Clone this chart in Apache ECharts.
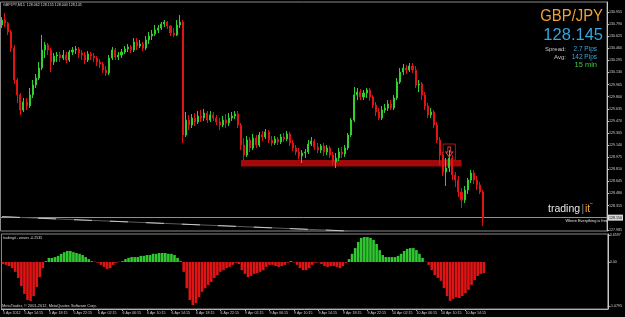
<!DOCTYPE html>
<html>
<head>
<meta charset="utf-8">
<script src="https://cdn.jsdelivr.net/npm/echarts@6/dist/echarts.min.js"></script>
<style>html,body{margin:0;padding:0;background:#000;}#c{width:625px;height:317px;}</style>
</head>
<body>
<div id="c"></div>
<script>
// ---- data (30-min buckets, GBP/JPY) ----
const opens = [130.777,130.845,130.804,130.682,130.463,130.027,129.823,129.618,129.727,129.673,
129.823,129.959,130.054,130.191,130.436,130.504,130.436,130.273,130.354,130.368,
130.327,130.368,130.300,130.409,130.436,130.450,130.395,130.368,130.300,130.382,
130.354,130.327,130.273,130.245,130.163,130.123,130.327,130.436,130.341,130.368,
130.409,130.450,130.477,130.436,130.545,130.491,130.518,130.463,130.573,130.627,
130.654,130.709,130.736,130.791,130.818,130.763,130.668,130.641,130.777,130.818,
129.277,129.481,129.413,129.509,129.454,129.536,129.509,129.577,129.481,129.550,
129.509,129.454,129.413,129.481,129.441,129.509,129.536,129.563,129.413,129.141,
129.004,129.209,129.100,129.236,129.141,129.277,129.250,129.318,129.209,129.168,
129.222,129.182,129.250,129.222,129.291,129.168,129.100,129.045,128.991,129.032,
129.045,129.154,129.195,129.113,129.072,129.127,129.045,129.100,129.004,128.909,
128.963,129.045,129.018,129.100,129.277,129.481,129.823,129.863,129.795,129.850,
129.891,129.795,129.686,129.591,129.509,129.618,129.645,129.700,129.645,129.782,
130.000,130.136,130.191,130.163,130.218,130.163,129.959,129.973,129.823,129.673,
129.550,129.591,129.413,129.209,129.004,128.773,128.827,128.963,128.732,128.663,
128.500,128.391,128.527,128.663,128.759,128.663,128.595,128.500];
const closes = [130.845,130.804,130.682,130.463,130.027,129.823,129.618,129.727,129.673,129.823,
129.959,130.054,130.191,130.436,130.504,130.436,130.273,130.354,130.368,130.327,
130.368,130.300,130.409,130.436,130.450,130.395,130.368,130.300,130.382,130.354,
130.327,130.273,130.245,130.163,130.123,130.327,130.436,130.341,130.368,130.409,
130.450,130.477,130.436,130.545,130.491,130.518,130.463,130.573,130.627,130.654,
130.709,130.736,130.791,130.818,130.763,130.668,130.641,130.777,130.818,129.277,
129.481,129.413,129.509,129.454,129.536,129.509,129.577,129.481,129.550,129.509,
129.454,129.413,129.481,129.441,129.509,129.536,129.563,129.413,129.141,129.004,
129.209,129.100,129.236,129.141,129.277,129.250,129.318,129.209,129.168,129.222,
129.182,129.250,129.222,129.291,129.168,129.100,129.045,128.991,129.032,129.045,
129.154,129.195,129.113,129.072,129.127,129.045,129.100,129.004,128.909,128.963,
129.045,129.018,129.100,129.277,129.481,129.823,129.863,129.795,129.850,129.891,
129.795,129.686,129.591,129.509,129.618,129.645,129.700,129.645,129.782,130.000,
130.136,130.191,130.163,130.218,130.163,129.959,129.973,129.823,129.673,129.550,
129.591,129.413,129.209,129.004,128.773,128.827,128.963,128.732,128.663,128.500,
128.391,128.527,128.663,128.759,128.663,128.595,128.500,128.145];
const lows = [130.736,130.750,130.641,130.409,129.973,129.713,129.550,129.591,129.618,129.645,
129.782,129.918,130.027,130.163,130.327,130.368,130.136,130.232,130.273,130.273,
130.300,130.259,130.273,130.368,130.382,130.327,130.300,130.245,130.273,130.300,
130.273,130.218,130.191,130.123,130.082,130.095,130.300,130.300,130.300,130.327,
130.382,130.409,130.395,130.409,130.436,130.463,130.422,130.436,130.518,130.573,
130.627,130.668,130.709,130.750,130.723,130.627,130.613,130.627,130.736,129.168,
129.250,129.345,129.372,129.400,129.427,129.454,129.468,129.441,129.454,129.468,
129.413,129.345,129.386,129.372,129.400,129.468,129.495,129.372,129.072,128.936,
128.977,129.045,129.072,129.100,129.113,129.195,129.222,129.168,129.127,129.141,
129.141,129.154,129.182,129.195,129.127,129.059,129.004,128.950,128.895,128.963,
129.018,129.127,129.072,129.032,129.032,128.991,129.004,128.963,128.868,128.827,
128.922,128.963,128.977,129.072,129.250,129.454,129.754,129.754,129.754,129.782,
129.741,129.645,129.536,129.481,129.481,129.577,129.604,129.618,129.618,129.754,
129.973,130.095,130.109,130.136,130.123,129.918,129.863,129.754,129.618,129.509,
129.509,129.372,129.168,128.868,128.718,128.582,128.773,128.663,128.568,128.432,
128.281,128.350,128.473,128.622,128.609,128.527,128.473,128.036];
const highs = [130.886,130.941,130.818,130.709,130.504,130.054,129.850,129.782,129.782,129.918,
130.027,130.109,130.273,130.641,130.545,130.532,130.463,130.395,130.409,130.409,
130.436,130.409,130.436,130.477,130.491,130.477,130.436,130.409,130.422,130.409,
130.395,130.354,130.313,130.273,130.218,130.368,130.477,130.463,130.409,130.450,
130.491,130.518,130.504,130.600,130.600,130.573,130.545,130.627,130.682,130.709,
130.777,130.777,130.818,130.845,130.832,130.777,130.736,130.845,130.913,130.845,
129.591,129.550,129.563,129.577,129.604,129.618,129.632,129.604,129.604,129.591,
129.550,129.509,129.536,129.563,129.577,129.591,129.604,129.604,129.441,129.236,
129.263,129.250,129.291,129.277,129.318,129.332,129.359,129.345,129.263,129.263,
129.250,129.291,129.304,129.332,129.318,129.209,129.141,129.100,129.072,129.086,
129.209,129.250,129.222,129.168,129.154,129.168,129.141,129.127,129.045,129.032,
129.100,129.113,129.141,129.304,129.509,129.932,129.918,129.904,129.891,129.918,
129.918,129.823,129.727,129.645,129.673,129.700,129.754,129.754,129.823,130.054,
130.191,130.245,130.232,130.259,130.259,130.218,130.027,130.000,129.863,129.713,
129.645,129.618,129.454,129.250,129.045,128.963,129.072,129.004,128.773,128.718,
128.554,128.582,128.691,128.800,128.800,128.718,128.636,128.527];
const waves = [-0.05,-0.07,-0.10,-0.15,-0.24,-0.39,-0.59,-0.78,-0.93,-0.95,
-0.83,-0.61,-0.37,-0.15,0.02,0.10,0.10,0.12,0.15,0.20,
0.24,0.27,0.27,0.24,0.22,0.20,0.17,0.12,0.07,0.02,
0.005,-0.02,-0.07,-0.12,-0.17,-0.15,-0.07,-0.02,0.005,0.02,
0.07,0.10,0.12,0.12,0.12,0.15,0.15,0.17,0.17,0.20,
0.20,0.22,0.22,0.22,0.20,0.20,0.17,0.10,0.02,-0.24,
-0.64,-0.93,-1.05,-1.00,-0.86,-0.73,-0.64,-0.56,-0.49,-0.39,
-0.32,-0.24,-0.20,-0.15,-0.12,-0.07,-0.02,-0.05,-0.20,-0.29,
-0.37,-0.34,-0.29,-0.27,-0.24,-0.20,-0.12,-0.07,-0.07,-0.10,
-0.12,-0.10,-0.07,-0.02,0.02,-0.01,-0.07,-0.15,-0.20,-0.20,
-0.15,-0.07,-0.02,-0.01,-0.05,-0.10,-0.12,-0.10,-0.10,-0.12,
-0.15,-0.10,-0.02,0.07,0.20,0.34,0.49,0.59,0.61,0.61,
0.59,0.54,0.44,0.29,0.17,0.12,0.12,0.12,0.12,0.15,
0.20,0.27,0.32,0.34,0.34,0.29,0.20,0.10,0.005,-0.07,
-0.20,-0.32,-0.39,-0.46,-0.64,-0.83,-0.95,-0.90,-0.86,-0.88,
-0.83,-0.76,-0.68,-0.56,-0.44,-0.34,-0.29,-0.27];
const priceTicks = [130.955,130.790,130.625,130.460,130.295,130.130,129.965,129.800,129.635,129.470,
129.305,129.140,128.975,128.810,128.645,128.480,128.315,127.985];
const waveTicks = [0.6597, 0, -1.0795];
const timeTicks = ['5 Apr 2012','5 Apr 14:15','5 Apr 18:15','5 Apr 22:15','6 Apr 02:15','6 Apr 06:15',
'6 Apr 10:15','6 Apr 14:15','6 Apr 18:15','6 Apr 22:15','9 Apr 02:15','9 Apr 06:15','9 Apr 10:15',
'9 Apr 14:15','9 Apr 18:15','9 Apr 22:15','10 Apr 02:15','10 Apr 06:15','10 Apr 10:15','10 Apr 14:15'];
const bidPrice = 128.145;
const supportZone = [[78, 128.936], [150, 128.847]];
const signalBox = [[144, 129.154], [148, 128.936]];
const signalArrow = [146, 129.045];
const trendLine = [[0, 128.163], [113, 127.968]];

// categories (30-min slots, incl. empty right shift)
const N = 198;
const months = ['Jan','Feb','Mar','Apr','May','Jun','Jul','Aug','Sep','Oct','Nov','Dec'];
const categories = [];
let t = Date.UTC(2012,3,5,10,45);
for (let i = 0; i < N; i++) {
  const d = new Date(t);
  categories.push(d.getUTCDate()+' '+months[d.getUTCMonth()]+' '+String(d.getUTCHours()).padStart(2,'0')+':'+String(d.getUTCMinutes()).padStart(2,'0'));
  t += 30*60000;
  if (t >= Date.UTC(2012,3,7,0,0) && t < Date.UTC(2012,3,9,0,15)) t = Date.UTC(2012,3,9,0,15);
}
const lastIdx = opens.length - 1;
const showTime = (idx) => idx === 0 || (idx >= 7 && (idx - 7) % 8 === 0 && idx <= lastIdx);

const FONT = '"Liberation Sans", Arial, sans-serif';
const chart = echarts.init(document.getElementById('c'));
const grey = '#8a8a8a';
chart.setOption({
  backgroundColor: '#000',
  animation: false,
  grid: [
    {left: 0.5, right: 15, top: 2, height: 229, show: true, borderColor: grey, borderWidth: 1},
    {left: 0.5, right: 15, top: 234, bottom: 8, show: true, borderColor: grey, borderWidth: 1}
  ],
  xAxis: [
    {type: 'category', gridIndex: 0, data: categories, boundaryGap: true,
     axisLine: {show: false}, axisTick: {show: false}, axisLabel: {show: false}, splitLine: {show: false}},
    {type: 'category', gridIndex: 1, data: categories, boundaryGap: true,
     axisLine: {show: true, onZero: false, lineStyle: {color: '#b0b0b0'}},
     axisTick: {show: true, alignWithLabel: true, interval: showTime, length: 2, lineStyle: {color: '#b0b0b0'}},
     axisLabel: {show: true, interval: showTime, align: 'left', margin: 2, fontSize: 3.6, fontFamily: FONT, color: '#d0d0d0',
       formatter: (v, idx) => idx === 0 ? timeTicks[0] : timeTicks[(idx - 7) / 8 + 1]},
     splitLine: {show: false}}
  ],
  yAxis: [
    {type: 'value', gridIndex: 0, position: 'right', min: 127.968, max: 131.091,
     splitLine: {show: false},
     axisLine: {show: true, lineStyle: {color: '#c8c8c8'}},
     axisTick: {show: true, length: 2, customValues: priceTicks, lineStyle: {color: '#c8c8c8'}},
     axisLabel: {customValues: priceTicks, formatter: v => v.toFixed(3), fontSize: 3.6, fontFamily: FONT, color: '#d0d0d0', margin: 2}},
    {type: 'value', gridIndex: 1, position: 'right', min: -1.1484, max: 0.6841,
     splitLine: {show: false},
     axisLine: {show: true, lineStyle: {color: '#c8c8c8'}},
     axisTick: {show: true, length: 2, customValues: waveTicks, lineStyle: {color: '#c8c8c8'}},
     axisLabel: {customValues: waveTicks, formatter: v => v === 0 ? '0.00' : v.toFixed(4), fontSize: 3.6, fontFamily: FONT, color: '#d0d0d0', margin: 2}}
  ],
  series: [
    {
      type: 'candlestick', xAxisIndex: 0, yAxisIndex: 0, barWidth: '50%', z: 5,
      data: opens.map((o, i) => [o, closes[i], lows[i], highs[i]]),
      itemStyle: {color: '#2fd02f', color0: '#e01414', borderColor: '#2fd02f', borderColor0: '#e01414', borderWidth: 1},
      markArea: {
        silent: true,
        data: [
          [{coord: supportZone[0], itemStyle: {color: '#a00a0a'}}, {coord: supportZone[1]}],
          [{coord: signalBox[0], itemStyle: {color: 'rgba(0,0,0,0)', borderColor: '#a01c1c', borderWidth: 1}}, {coord: signalBox[1]}]
        ]
      },
      markPoint: {
        silent: true,
        data: [{coord: signalArrow, symbol: 'path://M3,0 L7,0 L7,5 L10,5 L5,10 L0,5 L3,5 Z', symbolSize: [7, 10],
          itemStyle: {color: 'rgba(0,0,0,0)', borderColor: '#e04040', borderWidth: 1}, label: {show: false}}]
      },
      markLine: {
        silent: true, symbol: ['none', 'none'], label: {show: false},
        data: [
          {yAxis: bidPrice, lineStyle: {color: '#909090', type: 'solid', width: 1},
           label: {show: true, position: 'end', distance: 1, formatter: p => p.value.toFixed(3), fontSize: 3.6, fontFamily: FONT,
             color: '#000', backgroundColor: '#d8d8d8', padding: [1, 1]}},
          [{coord: trendLine[0], lineStyle: {color: '#5c5c5c', type: 'solid', width: 1}}, {coord: trendLine[1]}],
          [{coord: trendLine[0], lineStyle: {color: '#c8c8c8', type: [18, 18], width: 1}}, {coord: trendLine[1]}]
        ]
      }
    },
    {
      type: 'bar', xAxisIndex: 1, yAxisIndex: 1, barWidth: '85%', data: waves,
      itemStyle: {color: p => p.value >= 0 ? '#30c830' : '#e01414'}
    }
  ],
  graphic: [
    {type: 'text', x: 3, y: 4.5, style: {text: 'GBPJPY,M15  128.062 128.155 128.040 128.145', fill: '#d8d8d8', font: '3.6px ' + FONT, textVerticalAlign: 'middle'}},
    {type: 'text', x: 603, y: 16, scaleX: 0.9, style: {text: 'GBP/JPY', fill: '#f0a23a', font: '16.5px ' + FONT, textAlign: 'right', textVerticalAlign: 'middle'}},
    {type: 'text', x: 603, y: 35.5, style: {text: '128.145', fill: '#35a6e0', font: '16.5px ' + FONT, textAlign: 'right', textVerticalAlign: 'middle'}},
    {type: 'text', x: 566, y: 49.5, style: {text: 'Spread:', fill: '#c8c8c8', font: '6px ' + FONT, textAlign: 'right', textVerticalAlign: 'middle'}},
    {type: 'text', x: 597, y: 49.5, style: {text: '2.7 Pips', fill: '#35a6e0', font: '6.5px ' + FONT, textAlign: 'right', textVerticalAlign: 'middle'}},
    {type: 'text', x: 566, y: 57, style: {text: 'Avg:', fill: '#c8c8c8', font: '6px ' + FONT, textAlign: 'right', textVerticalAlign: 'middle'}},
    {type: 'text', x: 597, y: 57, style: {text: '142 Pips', fill: '#35a6e0', font: '6.5px ' + FONT, textAlign: 'right', textVerticalAlign: 'middle'}},
    {type: 'text', x: 597, y: 65, style: {text: '15 min', fill: '#3cc83c', font: '7.5px ' + FONT, textAlign: 'right', textVerticalAlign: 'middle'}},
    {type: 'text', x: 548, y: 209.5, style: {text: 'trading', fill: '#e6e6e6', font: '10.5px ' + FONT, textVerticalAlign: 'middle'}},
    {type: 'text', x: 581.5, y: 209.5, style: {text: '|', fill: '#909090', font: '10px ' + FONT, textVerticalAlign: 'middle'}},
    {type: 'text', x: 585, y: 209.5, style: {text: 'it', fill: '#f0a23a', font: '10.5px ' + FONT, textVerticalAlign: 'middle'}},
    {type: 'text', x: 590, y: 203.5, style: {text: 'tm', fill: '#c8c8c8', font: '2.5px ' + FONT, textVerticalAlign: 'middle'}},
    {type: 'text', x: 608, y: 220.5, style: {text: 'Where Everything is free', fill: '#e0e0e0', font: '3.9px ' + FONT, textAlign: 'right', textVerticalAlign: 'middle'}},
    {type: 'text', x: 3, y: 237.5, style: {text: 'tradingit - waves -0.2535', fill: '#d8d8d8', font: '3.6px ' + FONT, textVerticalAlign: 'middle'}},
    {type: 'text', x: 2, y: 305.5, style: {text: 'MetaTrader, © 2001-2012, MetaQuotes Software Corp.', fill: '#d8d8d8', font: '3.9px ' + FONT, textVerticalAlign: 'middle'}}
  ]
});
</script>
</body>
</html>
